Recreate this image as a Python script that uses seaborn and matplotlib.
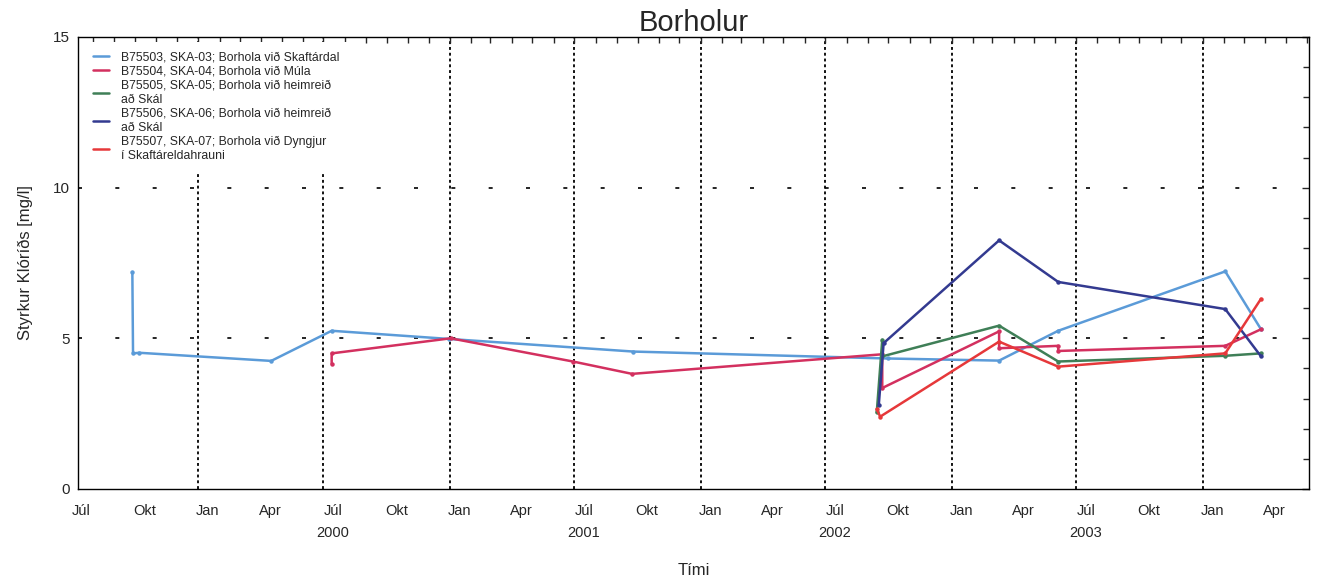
import matplotlib
matplotlib.use("Agg")
import matplotlib.pyplot as plt
import matplotlib.dates as mdates
from matplotlib.lines import Line2D
import numpy as np
import pandas as pd
import seaborn as sns

# ---------------- data ----------------
labels = [
    "B75503, SKA-03; Borhola við Skaftárdal",
    "B75504, SKA-04; Borhola við Múla",
    "B75505, SKA-05; Borhola við heimreið\nað Skál",
    "B75506, SKA-06; Borhola við heimreið\nað Skál",
    "B75507, SKA-07; Borhola við Dyngjur\ní Skaftáreldahrauni",
]
colors = ["#5b9bd8", "#d3305f", "#3f7f57", "#333a90", "#e6383a"]

dates_03 = ["1999-09-27", "1999-09-28", "1999-10-07", "2000-04-16", "2000-07-13",
            "2000-12-30", "2001-09-25", "2002-09-30", "2003-03-11", "2003-06-05",
            "2004-02-03", "2004-03-26"]
vals_03 = [7.2, 4.5, 4.52, 4.25, 5.25, 4.98, 4.56, 4.33, 4.26, 5.25, 7.22, 5.3]

dates_04 = ["2000-07-13", "2000-07-13", "2001-01-02", "2001-06-29", "2001-09-23",
            "2002-09-22", "2002-09-22", "2003-03-11", "2003-03-11", "2003-06-05",
            "2003-06-05", "2004-02-03", "2004-03-26"]
vals_04 = [4.15, 4.5, 5.0, 4.23, 3.82, 4.47, 3.35, 5.23, 4.67, 4.75, 4.58, 4.75, 5.3]

dates_05 = ["2002-09-14", "2002-09-22", "2002-09-22", "2003-03-11", "2003-06-05",
            "2004-02-03", "2004-03-26"]
vals_05 = [2.54, 4.95, 4.4, 5.42, 4.23, 4.42, 4.5]

dates_06 = ["2002-09-17", "2002-09-24", "2003-03-11", "2003-06-05", "2004-02-03",
            "2004-03-26"]
vals_06 = [2.8, 4.84, 8.25, 6.87, 5.97, 4.4]

dates_07 = ["2002-09-14", "2002-09-19", "2003-03-11", "2003-06-05", "2004-02-03",
            "2004-03-26"]
vals_07 = [2.65, 2.4, 4.89, 4.06, 4.5, 6.31]

month_names = ["Jan", "Apr", "Júl", "Okt"]

# ---------------- build frame ----------------
frames = []
for lab, d, v in zip(labels,
                     [dates_03, dates_04, dates_05, dates_06, dates_07],
                     [vals_03, vals_04, vals_05, vals_06, vals_07]):
    frames.append(pd.DataFrame({"date": pd.to_datetime(d), "value": v, "series": lab}))
df = pd.concat(frames, ignore_index=True)

sns.set_style("white")
plt.rcParams["font.family"] = ["Liberation Sans", "DejaVu Sans"]

fig = plt.figure(figsize=(13.25, 5.87), dpi=100)
ax = fig.add_axes([0.0589, 0.167, 0.988 - 0.0589, 0.937 - 0.167])

sns.lineplot(data=df, x="date", y="value", hue="series", hue_order=labels,
             palette=colors, sort=False, estimator=None, marker="o",
             markersize=3.2, markeredgewidth=0, linewidth=1.8, ax=ax, legend=False)

xmin = pd.Timestamp("1999-07-10")
xmax = pd.Timestamp("2004-06-04")
ax.set_xlim(xmin, xmax)
ax.set_ylim(0, 15)

# gridlines
for yr in range(2000, 2005):
    for m in (1, 7):
        t = pd.Timestamp(f"{yr}-{m:02d}-01")
        if xmin < t < xmax:
            ax.axvline(t, color="black", lw=1.3, ls=(0, (1.6, 1.6)), zorder=0.5)
for yv in (5, 10):
    ax.axhline(yv, color="black", lw=1.2, ls=(0, (2.4, 20)), zorder=0.5)

# ticks: minor monthly tick marks; labels at mid-month of each quarter
ax.xaxis.set_minor_locator(mdates.MonthLocator())
tick_pos, tick_lab = [], []
for yr in range(1999, 2005):
    for i, m in enumerate((1, 4, 7, 10)):
        t = pd.Timestamp(f"{yr}-{m:02d}-15")
        if xmin <= t <= xmax:
            tick_pos.append(t)
            lab = month_names[i]
            if m == 7 and 2000 <= yr <= 2003:
                lab += f"\n{yr}"
            tick_lab.append(lab)
ax.set_xticks(tick_pos)
ax.set_xticklabels(tick_lab, fontsize=10.5, linespacing=1.75)

ax.set_yticks([0, 5, 10, 15])
ax.set_yticklabels(["0", "5", "10", "15"], fontsize=11)
ax.yaxis.set_minor_locator(matplotlib.ticker.MultipleLocator(1))
ax.tick_params(axis="y", which="major", direction="in", length=5, width=1,
               right=True, pad=6)
ax.tick_params(axis="x", which="major", length=0, top=False, pad=11)
ax.tick_params(axis="both", which="minor", direction="in", length=4, width=1,
               top=True, right=True)

for s in ax.spines.values():
    s.set_color("black")
    s.set_linewidth(1.0)

ax.set_title("Borholur", fontsize=21, pad=4)
ax.set_ylabel("Styrkur Klóríðs [mg/l]", fontsize=12, labelpad=14)
ax.set_xlabel("Tími", fontsize=12, labelpad=16)

handles = [Line2D([0], [0], color=c, lw=1.8) for c in colors]
leg = ax.legend(handles, labels, loc="upper left", bbox_to_anchor=(0.002, 0.995),
                fontsize=8.8, frameon=True, facecolor="white", edgecolor="none",
                framealpha=1.0, fancybox=False, borderpad=0.8,
                handlelength=1.3, handletextpad=1.0,
                labelspacing=0.18, borderaxespad=0.2)
for t in leg.get_texts():
    t.set_linespacing(1.2)

fig.savefig("out.png", dpi=100, facecolor="white")
